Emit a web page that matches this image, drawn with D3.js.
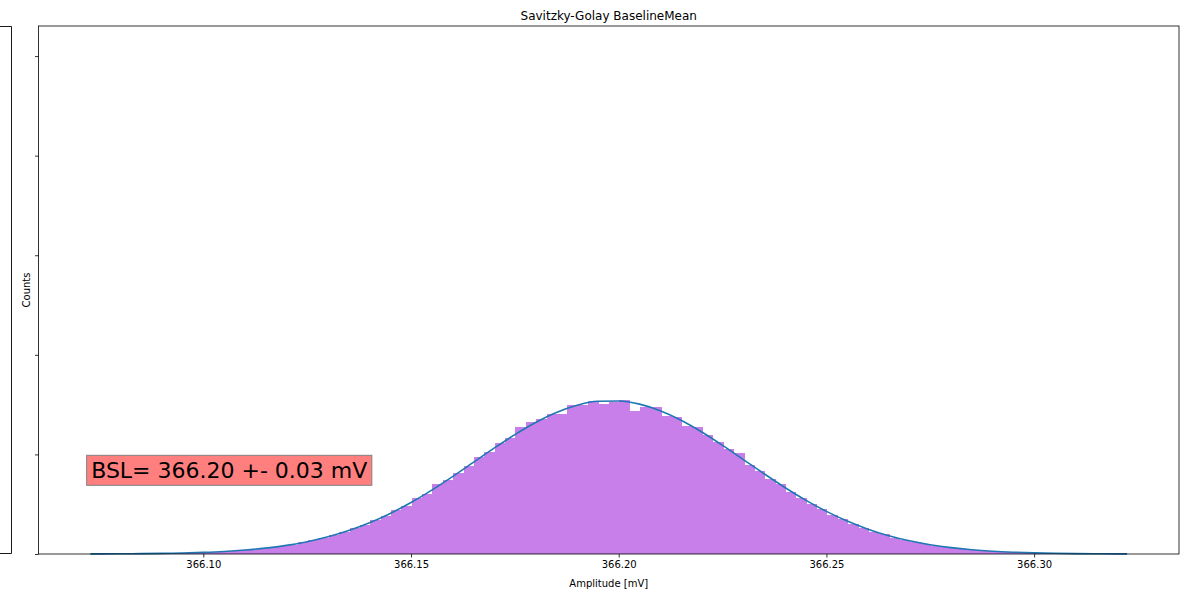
<!DOCTYPE html>
<html>
<head>
<meta charset="utf-8">
<script src="https://cdn.jsdelivr.net/npm/d3@7"></script>
<style>
  body { margin: 0; background: #fff; }
  svg { font-family: "DejaVu Sans", sans-serif; }
</style>
</head>
<body>
<svg id="chart" width="1196" height="592"></svg>
<script>

// histogram: 100 bins, first edge and width in mV
var binStart = 366.0728;
var binWidth = 0.002496;
var counts = [1, 1, 1, 1, 2, 2, 3, 4, 5, 6,
              7, 9, 12, 15, 18, 22, 27, 33, 41, 47,
              58, 69, 79, 96, 109, 130, 146, 172, 190, 222,
              243, 279, 303, 352, 370, 406, 441, 485, 512, 556,
              582, 640, 665, 680, 705, 705, 750, 750, 770, 755,
              765, 775, 720, 740, 740, 695, 690, 645, 640, 595,
              560, 528, 505, 448, 418, 379, 350, 310, 282, 250,
              226, 195, 176, 150, 133, 112, 99, 82, 71, 58,
              50, 41, 35, 28, 23, 19, 15, 12, 10, 8,
              6, 5, 4, 3, 2, 2, 1, 1, 1, 0];

// gaussian fit, sampled
var fitX = [366.0728, 366.075, 366.080, 366.085, 366.090, 366.095, 366.100, 366.105, 366.110, 366.115,
            366.120, 366.125, 366.130, 366.135, 366.140, 366.145, 366.150, 366.155, 366.160, 366.165,
            366.170, 366.175, 366.180, 366.185, 366.190, 366.195, 366.200, 366.205, 366.210, 366.215,
            366.220, 366.225, 366.230, 366.235, 366.240, 366.245, 366.250, 366.255, 366.260, 366.265,
            366.270, 366.275, 366.280, 366.285, 366.290, 366.295, 366.300, 366.305, 366.310, 366.315,
            366.320, 366.3224];
var fitY = [0.5, 0.6, 1.1, 1.8, 3.1, 5.1, 8.2, 12.8, 19.7, 29.5,
            43.2, 61.8, 86.3, 117.6, 156.7, 203.8, 258.7, 320.9, 388.7, 459.9,
            531.3, 599.4, 660.5, 710.8, 747.1, 766.7, 768.5, 752.4, 719.3, 671.5,
            612.4, 545.2, 474.2, 402.8, 334.1, 270.6, 214.1, 165.4, 124.8, 91.9,
            66.2, 46.5, 31.9, 21.4, 14.0, 9.0, 5.6, 3.4, 2.0, 1.2,
            0.7, 0.5];

var xTicks = [366.10, 366.15, 366.20, 366.25, 366.30];
var yTicks = [0, 500, 1000, 1500, 2000, 2500];

var title = "Savitzky-Golay BaselineMean";
var bslText = "BSL= 366.20 +- 0.03 mV";

var svg = d3.select("#chart");
var margin = {left: 38.5, right: 17, top: 26, bottom: 38};
var width = 1196 - margin.left - margin.right;
var height = 592 - margin.top - margin.bottom;

// piece of the neighbouring subplot on the far left
svg.append("path")
   .attr("d", "M0,26.5 H11.5 V553.5 H0")
   .attr("fill", "none")
   .attr("stroke", "#000")
   .attr("stroke-width", 0.9);

var g = svg.append("g")
   .attr("transform", "translate(" + margin.left + "," + margin.top + ")");

// 5% margins like matplotlib
var xmin = binStart, xmax = binStart + counts.length * binWidth;
var pad = (xmax - xmin) * 0.05;
var x = d3.scaleLinear().domain([xmin - pad, xmax + pad]).range([0, width]);
var y = d3.scaleLinear().domain([0, 2651]).range([height, 0]);

var bins = counts.map(function(c, i) {
    return {x0: binStart + i * binWidth, x1: binStart + (i + 1) * binWidth, n: c};
});

g.selectAll("rect.bar")
 .data(bins)
 .enter().append("rect")
 .attr("class", "bar")
 .attr("x", function(d) { return x(d.x0); })
 .attr("width", function(d) { return x(d.x1) - x(d.x0) + 1; })
 .attr("y", function(d) { return y(d.n); })
 .attr("height", function(d) { return height - y(d.n); })
 .attr("fill", "#c97fe9")
 .attr("shape-rendering", "crispEdges");

var line = d3.line()
   .x(function(d) { return x(d[0]); })
   .y(function(d) { return y(d[1]); })
   .curve(d3.curveMonotoneX);

g.append("path")
 .datum(d3.zip(fitX, fitY))
 .attr("d", line)
 .attr("fill", "none")
 .attr("stroke", "#1f77b4")
 .attr("stroke-width", 1.6);

// axes
var xAxis = g.append("g")
   .attr("transform", "translate(0," + height + ")")
   .call(d3.axisBottom(x).tickValues(xTicks).tickFormat(d3.format(".2f")).tickSize(3.5).tickPadding(3.5));
var yAxis = g.append("g")
   .call(d3.axisLeft(y).tickValues(yTicks).tickFormat("").tickSize(3.5));

[xAxis, yAxis].forEach(function(a) {
    a.select(".domain").remove();
    a.selectAll("line").attr("stroke", "#000").attr("stroke-width", 0.8);
    a.selectAll("text").attr("fill", "#000").style("font-size", "10px").style("font-family", "DejaVu Sans");
});

// frame
g.append("rect")
 .attr("width", width).attr("height", height)
 .attr("fill", "none")
 .attr("stroke", "#000")
 .attr("stroke-width", 0.8);

// BSL box
var bsl = g.append("g").attr("transform", "translate(" + x(366.0730) + "," + y(380) + ")");
var bt = bsl.append("text")
   .attr("x", 0).attr("y", 0)
   .style("font-size", "22px")
   .attr("fill", "#000")
   .text(bslText);
var bb = bt.node().getBBox();
bsl.insert("rect", "text")
   .attr("x", bb.x - 4.5).attr("y", bb.y - 3)
   .attr("width", bb.width + 9).attr("height", bb.height + 5)
   .attr("fill", "#ff7f7f")
   .attr("stroke", "#808080")
   .attr("stroke-width", 1);

// labels
svg.append("text")
   .attr("x", margin.left + width / 2).attr("y", 20)
   .attr("text-anchor", "middle")
   .style("font-size", "12px")
   .text(title);

svg.append("text")
   .attr("x", margin.left + width / 2).attr("y", 587)
   .attr("text-anchor", "middle")
   .style("font-size", "10px")
   .text("Amplitude [mV]");

svg.append("text")
   .attr("transform", "translate(30," + (margin.top + height / 2) + ") rotate(-90)")
   .attr("text-anchor", "middle")
   .style("font-size", "10px")
   .text("Counts");

</script>
</body>
</html>
